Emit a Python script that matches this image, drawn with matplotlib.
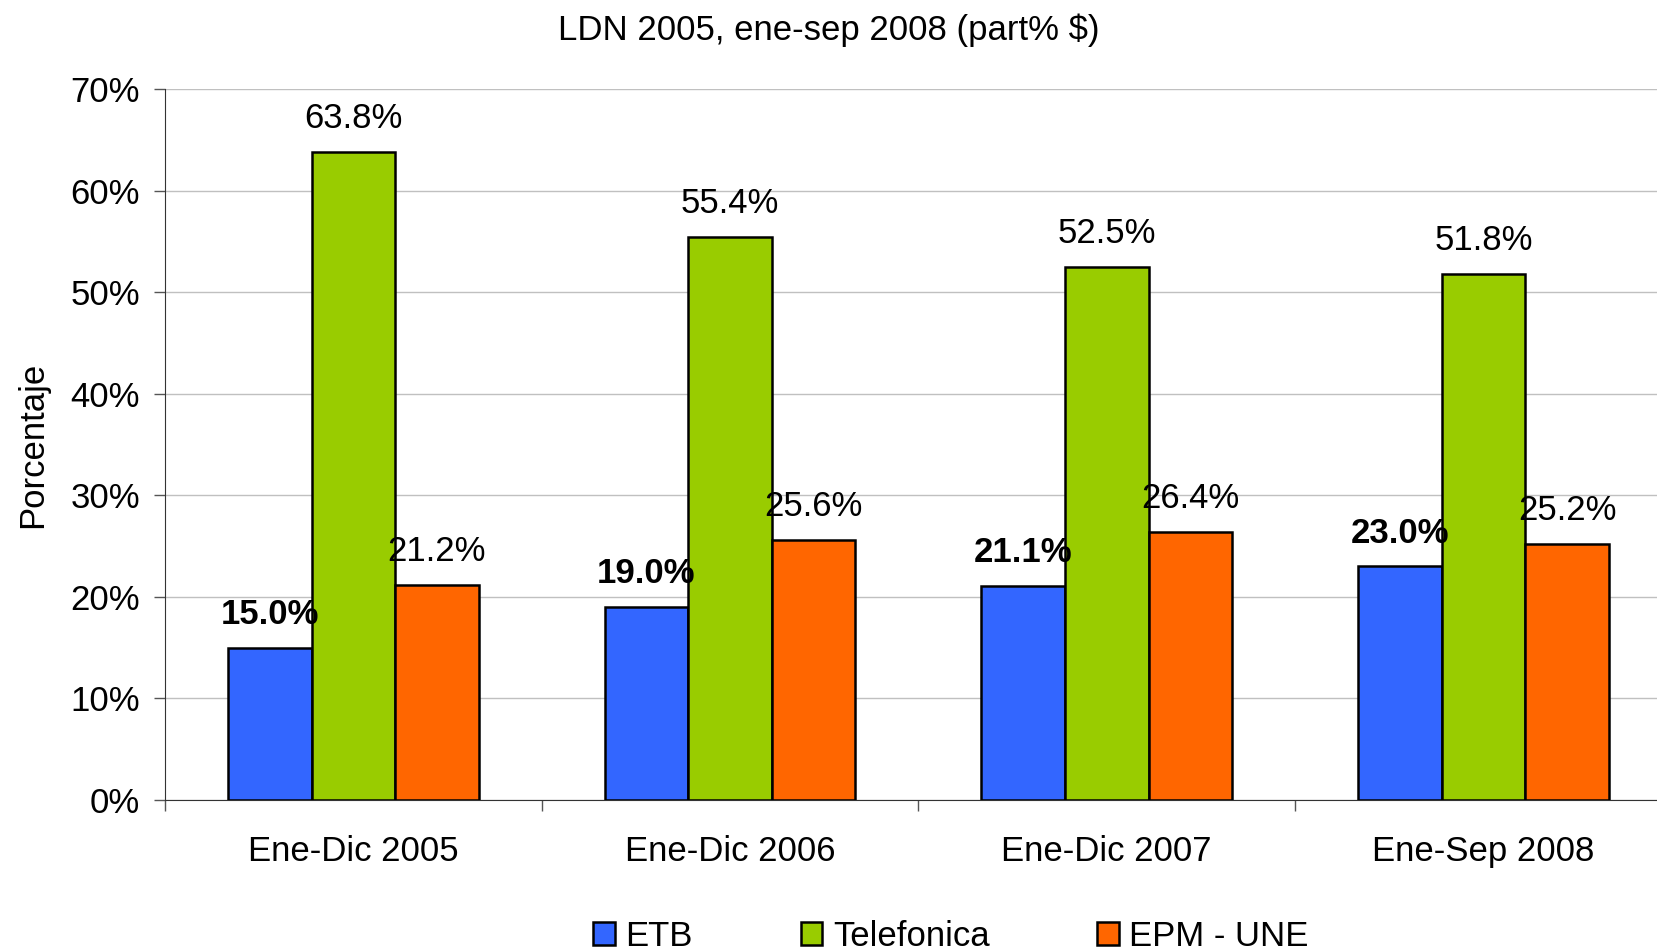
import matplotlib.pyplot as plt
import numpy as np

plt.rcParams['font.family'] = ['Liberation Sans', 'DejaVu Sans']

periods = ['Ene-Dic 2005', 'Ene-Dic 2006', 'Ene-Dic 2007', 'Ene-Sep 2008']
etb = [15.0, 19.0, 21.1, 23.0]
telefonica = [63.8, 55.4, 52.5, 51.8]
epm = [21.2, 25.6, 26.4, 25.2]

names = ['ETB', 'Telefonica', 'EPM - UNE']
colors = ['#3366FF', '#99CC00', '#FF6600']

fig = plt.figure(figsize=(16.58, 9.52), dpi=100)
ax = fig.add_axes([165/1658, 1-800/952, 4*376.7/1658, 711/952])

x = np.arange(len(periods))
w = 0.222
series = [etb, telefonica, epm]
for i in range(3):
	pos = x + (i-1)*w
	ax.bar(pos, series[i], w, color=colors[i], edgecolor='black', linewidth=1.8, label=names[i], zorder=3)
	for p, v in zip(pos, series[i]):
		ax.annotate('%.1f%%' % v, (p, v), xytext=(0, 24), textcoords='offset points',
			ha='center', va='center', fontsize=25,
			fontweight='bold' if i == 0 else 'normal', zorder=4)

ax.set_xlim(-0.5, 3.5)
ax.set_ylim(0, 70)
ax.set_yticks(range(0, 71, 10))
ax.set_yticklabels([str(t) + '%' for t in range(0, 71, 10)])
ax.set_xticks(x)
ax.set_xticklabels(periods)
ax.set_xticks(np.arange(-0.5, 3.6, 1), minor=True)
ax.tick_params(axis='x', which='major', length=0, pad=25, labelsize=25)
ax.tick_params(axis='x', which='minor', length=8, width=1, color='#555555')
ax.tick_params(axis='y', length=8, width=1, color='#555555', pad=10, labelsize=25)
ax.yaxis.grid(True, color='#C0C0C0', linewidth=1, zorder=0)
ax.spines['top'].set_visible(False)
ax.spines['right'].set_visible(False)
ax.spines['left'].set_color('#333333')
ax.spines['bottom'].set_color('#333333')
ax.set_ylabel('Porcentaje', fontsize=25, labelpad=15)

fig.text(0.5, 1-30/952, 'LDN 2005, ene-sep 2008 (part% $)', ha='center', va='center', fontsize=25)
fig.legend(loc='center', bbox_to_anchor=(951/1658, 1-936/952), ncol=3, frameon=False,
	fontsize=25, handlelength=0.63, handleheight=0.63, handletextpad=0.3, columnspacing=3.1)

plt.savefig('out.png', dpi=100)
